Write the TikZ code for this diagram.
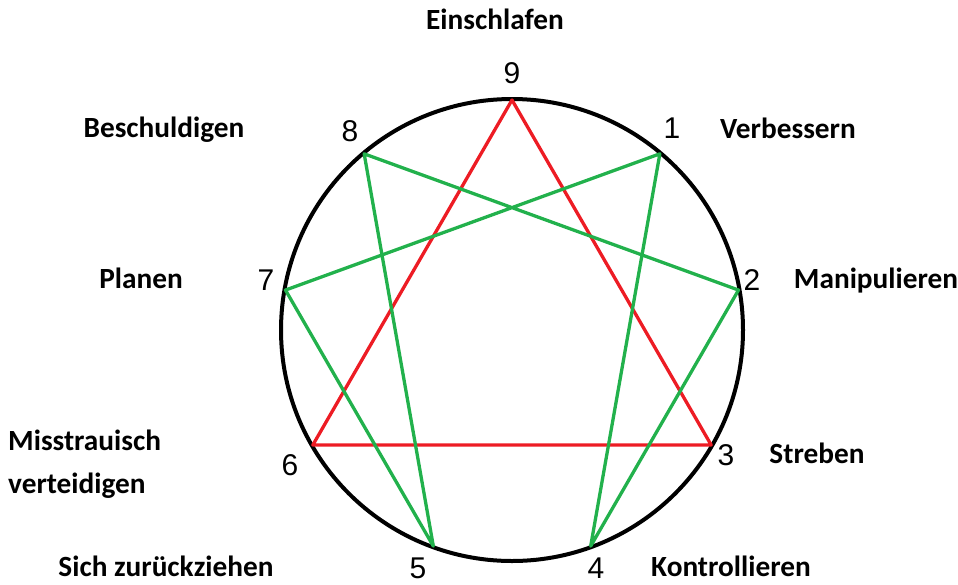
\documentclass[tikz,border=0pt]{standalone}
\usepackage{fontspec}
\setmainfont{Carlito}
\newfontfamily\numfont{Liberation Sans}
\definecolor{pred}{HTML}{ED1C24}
\definecolor{pgreen}{HTML}{22B14C}
\begin{document}
\begin{tikzpicture}[x=1pt,y=-1pt,
  lab/.style={font=\fontsize{29.3}{43}\selectfont\bfseries, inner sep=0, text depth=0},
  num/.style={font=\numfont\fontsize{30}{30}\selectfont, inner sep=0},
  redl/.style={pred, line width=3.3pt, line join=round},
  greenl/.style={pgreen, line width=3.3pt, line join=round}]
\useasboundingbox (0,0) rectangle (958,584);
\coordinate (c) at (512,330);
\foreach \i in {0,...,8}
  \coordinate (p\i) at ({512+230*cos(90-40*\i)}, {330-230*sin(90-40*\i)});
\draw[line width=4pt] (c) circle[radius=231];
\draw[redl] (p0) -- (p3) -- (p6) -- cycle;
\draw[greenl] (p1) -- (p4) -- (p2) -- (p8) -- (p5) -- (p7) -- cycle;
% numbers
\node[num] (n9) at (512,73) {9};
\node[num] (n1) at (672,128) {1};
\node[num] (n2) at (752,280) {2};
\node[num] (n3) at (726,455) {3};
\node[num] (n4) at (596,568) {4};
\node[num] (n5) at (418,568) {5};
\node[num] (n6) at (290,465) {6};
\node[num] (n7) at (266,280) {7};
\node[num] (n8) at (350,131) {8};
% labels
\node[lab] (l9) at (495,19) {Einschlafen};
\node[lab] (l1) at (788,128) {Verbessern};
\node[lab] (l2) at (876,278) {Manipulieren};
\node[lab] (l3) at (817,453) {Streben};
\node[lab] (l4) at (731,566) {Kontrollieren};
\node[lab] (l5) at (166,566) {Sich zurückziehen};
\node[lab, align=left, anchor=west] (l6) at (8,462) {Misstrauisch\\verteidigen};
\node[lab] (l7) at (141,278) {Planen};
\node[lab] (l8) at (164,127) {Beschuldigen};
\end{tikzpicture}
\end{document}
